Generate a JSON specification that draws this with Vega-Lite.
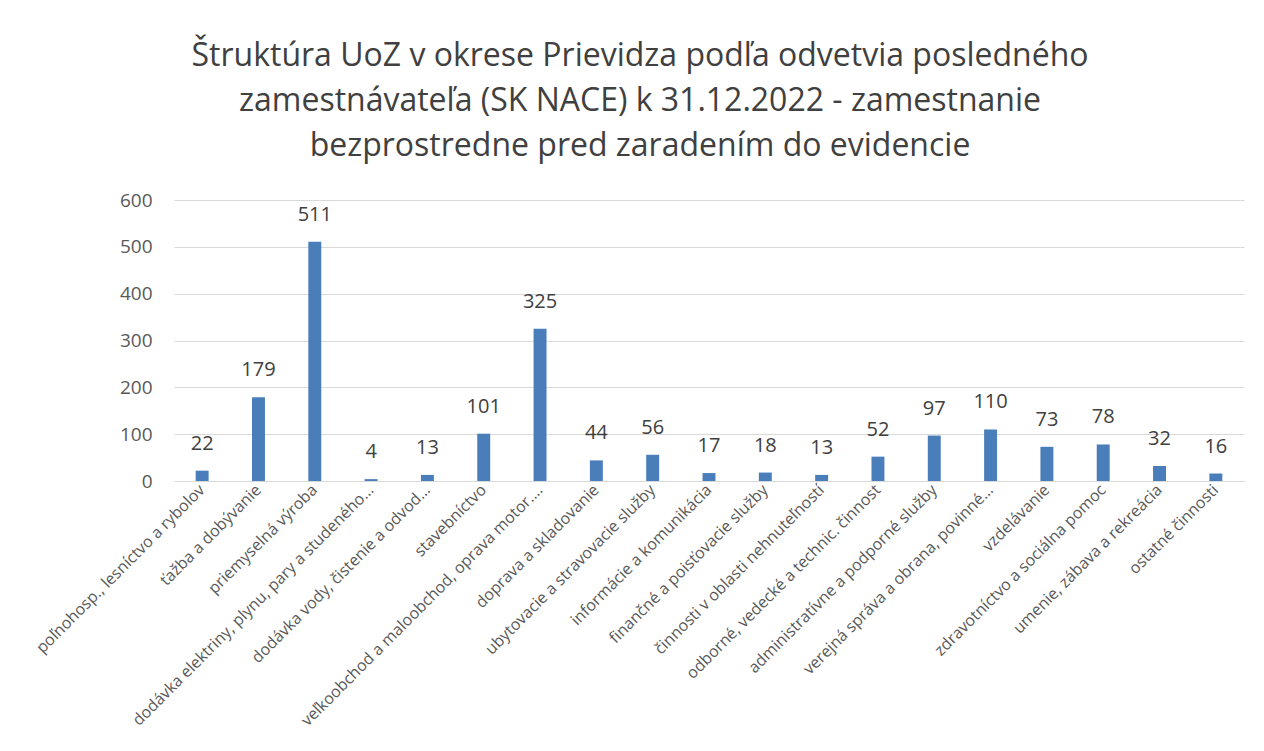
{
  "$schema": "https://vega.github.io/schema/vega-lite/v6.json",
  "width": 1070,
  "height": 281,
  "autosize": {"type": "none"},
  "padding": {"left": 174, "top": 200, "right": 20, "bottom": 270},
  "background": "white",
  "title": {
    "text": ["Štruktúra UoZ v okrese Prievidza podľa odvetvia posledného", "zamestnávateľa (SK NACE) k 31.12.2022 - zamestnanie", "bezprostredne pred zaradením do evidencie"],
    "font": "Open Sans",
    "fontSize": 32,
    "fontWeight": "normal",
    "color": "#404040",
    "lineHeight": 45,
    "anchor": "middle",
    "dx": -69,
    "offset": 28
  },
  "data": {
    "values": [
      {"k": "poľnohosp., lesníctvo a rybolov", "v": 22},
      {"k": "ťažba a dobývanie", "v": 179},
      {"k": "priemyselná výroba", "v": 511},
      {"k": "dodávka elektriny, plynu, pary a studeného…", "v": 4},
      {"k": "dodávka vody, čistenie a odvod…", "v": 13},
      {"k": "stavebníctvo", "v": 101},
      {"k": "veľkoobchod a maloobchod, oprava motor.…", "v": 325},
      {"k": "doprava a skladovanie", "v": 44},
      {"k": "ubytovacie a stravovacie služby", "v": 56},
      {"k": "informácie a komunikácia", "v": 17},
      {"k": "finančné a poisťovacie služby", "v": 18},
      {"k": "činnosti v oblasti nehnuteľností", "v": 13},
      {"k": "odborné, vedecké a technic. činnost", "v": 52},
      {"k": "administratívne a podporné služby", "v": 97},
      {"k": "verejná správa a obrana, povinné…", "v": 110},
      {"k": "vzdelávanie", "v": 73},
      {"k": "zdravotníctvo a sociálna pomoc", "v": 78},
      {"k": "umenie, zábava a rekreácia", "v": 32},
      {"k": "ostatné činnosti", "v": 16}
    ]
  },
  "encoding": {
    "x": {
      "field": "k", "type": "nominal", "sort": null,
      "scale": {"paddingInner": 0.77, "paddingOuter": 0.385},
      "axis": {
        "title": null, "labelAngle": -45, "labelAlign": "right", "labelBaseline": "middle",
        "labelFont": "Open Sans", "labelFontSize": 16, "labelColor": "#595959",
        "labelLimit": 400, "labelPadding": 6, "ticks": false,
        "domainColor": "#d9d9d9", "domainWidth": 1, "grid": false
      }
    },
    "y": {
      "field": "v", "type": "quantitative",
      "scale": {"domain": [0, 600]},
      "axis": {
        "title": null, "values": [0, 100, 200, 300, 400, 500, 600],
        "labelFont": "Open Sans", "labelFontSize": 19, "labelColor": "#595959",
        "labelPadding": 22, "ticks": false, "domain": false,
        "gridColor": "#d9d9d9", "gridWidth": 1
      }
    }
  },
  "layer": [
    {"mark": {"type": "bar", "color": "#4a7ebb"}},
    {
      "mark": {"type": "text", "dy": -17, "font": "Open Sans", "fontSize": 20, "color": "#404040", "baseline": "bottom"},
      "encoding": {"text": {"field": "v", "type": "quantitative"}}
    }
  ],
  "config": {"view": {"stroke": null}}
}
